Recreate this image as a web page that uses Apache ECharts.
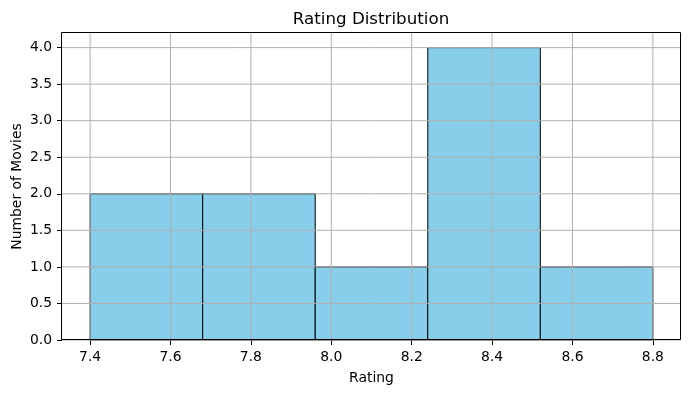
<!DOCTYPE html>
<html><head><meta charset="utf-8">
<script src="https://cdn.jsdelivr.net/npm/echarts@6/dist/echarts.min.js"></script>
<style>html,body{margin:0;padding:0;background:#fff}#c{width:691px;height:393px}</style>
</head><body><div id="c"></div>
<script>
const binEdges = [7.4, 7.68, 7.96, 8.24, 8.52, 8.8];
const counts = [2, 2, 1, 4, 1];
const xTicks = [7.4, 7.6, 7.8, 8.0, 8.2, 8.4, 8.6, 8.8];
const yTicks = [0, 0.5, 1, 1.5, 2, 2.5, 3, 3.5, 4];

const bins = counts.map((c, i) => [binEdges[i], binEdges[i + 1], c]);
const font = 'DejaVu Sans';
const chart = echarts.init(document.getElementById('c'), null, {renderer: 'canvas'});
chart.setOption({
  animation: false,
  title: {text: 'Rating Distribution', left: 366, top: 6, textAlign: 'center',
    textStyle: {fontFamily: font, fontSize: 16.7, fontWeight: 'normal', color: '#000'}},
  grid: {left: 62, right: 10, top: 33, bottom: 53, containLabel: false, outerBoundsMode: 'none'},
  xAxis: {type: 'value', min: 7.33, max: 8.87, z: 3,
    name: 'Rating', nameLocation: 'middle', nameGap: 31, nameMoveOverlap: false,
    nameTextStyle: {fontFamily: font, fontSize: 13.9, color: '#000'},
    axisLine: {show: false, onZero: false},
    axisTick: {show: true, length: 5, customValues: xTicks, lineStyle: {color: '#000'}},
    axisLabel: {customValues: xTicks, margin: 10, fontFamily: font, fontSize: 13.9, color: '#000',
      formatter: v => v.toFixed(1)},
    splitLine: {show: false}
  },
  yAxis: {type: 'value', min: 0, max: 4.2, z: 3,
    name: 'Number of Movies', nameLocation: 'middle', nameGap: 38, nameMoveOverlap: false,
    nameTextStyle: {fontFamily: font, fontSize: 13.9, color: '#000'},
    axisLine: {show: false},
    axisTick: {show: true, length: 5, customValues: yTicks, lineStyle: {color: '#000'}},
    axisLabel: {customValues: yTicks, margin: 10, fontFamily: font, fontSize: 13.9, color: '#000',
      formatter: v => v.toFixed(1)},
    splitLine: {show: false}
  },
  series: [
    {type: 'custom', z: 2, data: bins,
      renderItem: (params, api) => {
        const p0 = api.coord([api.value(0), api.value(2)]);
        const p1 = api.coord([api.value(1), 0]);
        return {type: 'rect', shape: {x: p0[0], y: p0[1], width: p1[0] - p0[0], height: p1[1] - p0[1]},
          style: {fill: '#87CEEB', stroke: '#000', lineWidth: 1}};
      }},
    {type: 'custom', z: 5, data: xTicks.map(v => [v]), silent: true,
      renderItem: (params, api) => {
        const a = api.coord([api.value(0), 0]);
        const b = api.coord([api.value(0), 4.2]);
        return {type: 'line', shape: {x1: a[0], y1: a[1], x2: b[0], y2: b[1]},
          style: {stroke: '#b0b0b0', lineWidth: 1}};
      }},
    {type: 'custom', z: 5, data: yTicks.map(v => [v]), silent: true,
      renderItem: (params, api) => {
        const a = api.coord([7.33, api.value(0)]);
        const b = api.coord([8.87, api.value(0)]);
        return {type: 'line', shape: {x1: a[0], y1: a[1], x2: b[0], y2: b[1]},
          style: {stroke: '#b0b0b0', lineWidth: 1}};
      }, encode: {x: -1, y: 0}}
  ],
  graphic: [{type: 'rect', z: 100, shape: {x: 61.5, y: 32.5, width: 619, height: 307},
    style: {fill: 'none', stroke: '#000', lineWidth: 1}}]
});
</script></body></html>
